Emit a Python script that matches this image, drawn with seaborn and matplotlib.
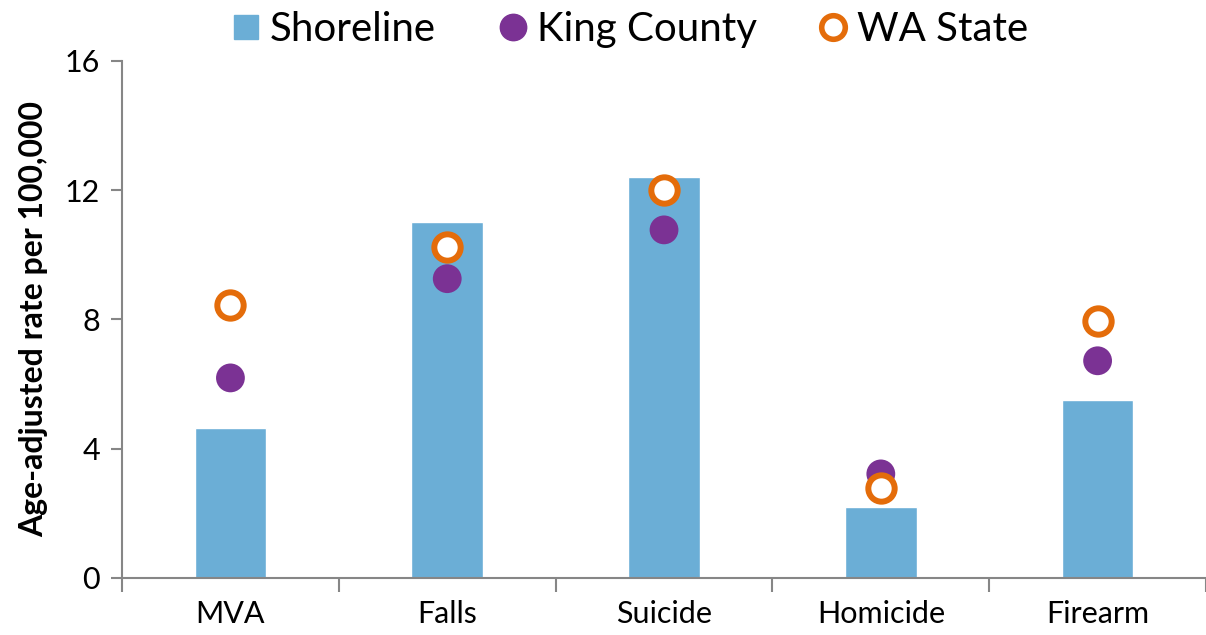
import numpy as np
import pandas as pd
import matplotlib
matplotlib.use("Agg")
import matplotlib.pyplot as plt
from matplotlib.lines import Line2D
import seaborn as sns

# valores
categorias = ["MVA", "Falls", "Suicide", "Homicide", "Firearm"]
shoreline = [4.65, 11.02, 12.41, 2.2, 5.51]
king_county = [6.19, 9.26, 10.77, 3.22, 6.72]
wa_state = [8.45, 10.25, 12.01, 2.79, 7.96]

cor_barra = "#6BAED6"
cor_king = "#7B3294"
cor_wa = "#E46C0A"
cor_eixo = "#868686"

sns.set_style("white")
plt.rcParams["font.family"] = ["Lato", "DejaVu Sans"]
plt.rcParams["text.color"] = "black"
plt.rcParams["xtick.labelcolor"] = "black"
plt.rcParams["ytick.labelcolor"] = "black"

df = pd.DataFrame({"cat": categorias, "shoreline": shoreline,
                   "king": king_county, "wa": wa_state})

fig = plt.figure(figsize=(12.06, 6.35), dpi=100)
ax = fig.add_axes([0.1012, 0.0898, 0.8988, 0.8144])

sns.barplot(data=df, x="cat", y="shoreline", color=cor_barra, width=0.33,
            saturation=1, ax=ax)
ax.scatter(range(len(categorias)), df["king"], s=430, color=cor_king,
           edgecolor="none", zorder=3)
ax.scatter(range(len(categorias)), df["wa"], s=360, facecolor="white",
           edgecolor=cor_wa, linewidth=4.3, zorder=4)

ax.set_ylim(0, 16)
ax.set_yticks([0, 4, 8, 12, 16])
ax.set_xlim(-0.5, -0.5 + (1206 - 122) / 219)
ax.set_xticks(range(len(categorias)))
ax.set_xticklabels(categorias)
ax.set_xticks(np.arange(-0.5, 5, 1), minor=True)
ax.tick_params(axis="x", which="major", length=0, labelsize=22, pad=16,
               bottom=True)
ax.tick_params(axis="x", which="minor", length=10, width=1.5, color=cor_eixo,
               direction="out", bottom=True)
ax.tick_params(axis="y", length=8, width=1.5, color=cor_eixo, labelsize=22,
               direction="out", pad=8, left=True)
ax.set_xlabel("")
ax.set_ylabel("Age-adjusted rate per 100,000", fontsize=23, fontweight="bold",
              labelpad=12, color="black")

for lado in ["top", "right"]:
    ax.spines[lado].set_visible(False)
for lado in ["left", "bottom"]:
    ax.spines[lado].set_color(cor_eixo)
    ax.spines[lado].set_linewidth(1.5)

handles = [
    Line2D([], [], marker="s", linestyle="", markersize=17, color=cor_barra),
    Line2D([], [], marker="o", linestyle="", markersize=19, color=cor_king),
    Line2D([], [], marker="o", linestyle="", markersize=17, markerfacecolor="white",
           markeredgecolor=cor_wa, markeredgewidth=4),
]
fig.legend(handles, ["Shoreline", "King County", "WA State"], loc="upper center",
           bbox_to_anchor=(0.52, 1.04), ncol=3, frameon=False, fontsize=29,
           handletextpad=0.1, columnspacing=1.4, handlelength=1.0)

fig.savefig("out.png", dpi=100)
